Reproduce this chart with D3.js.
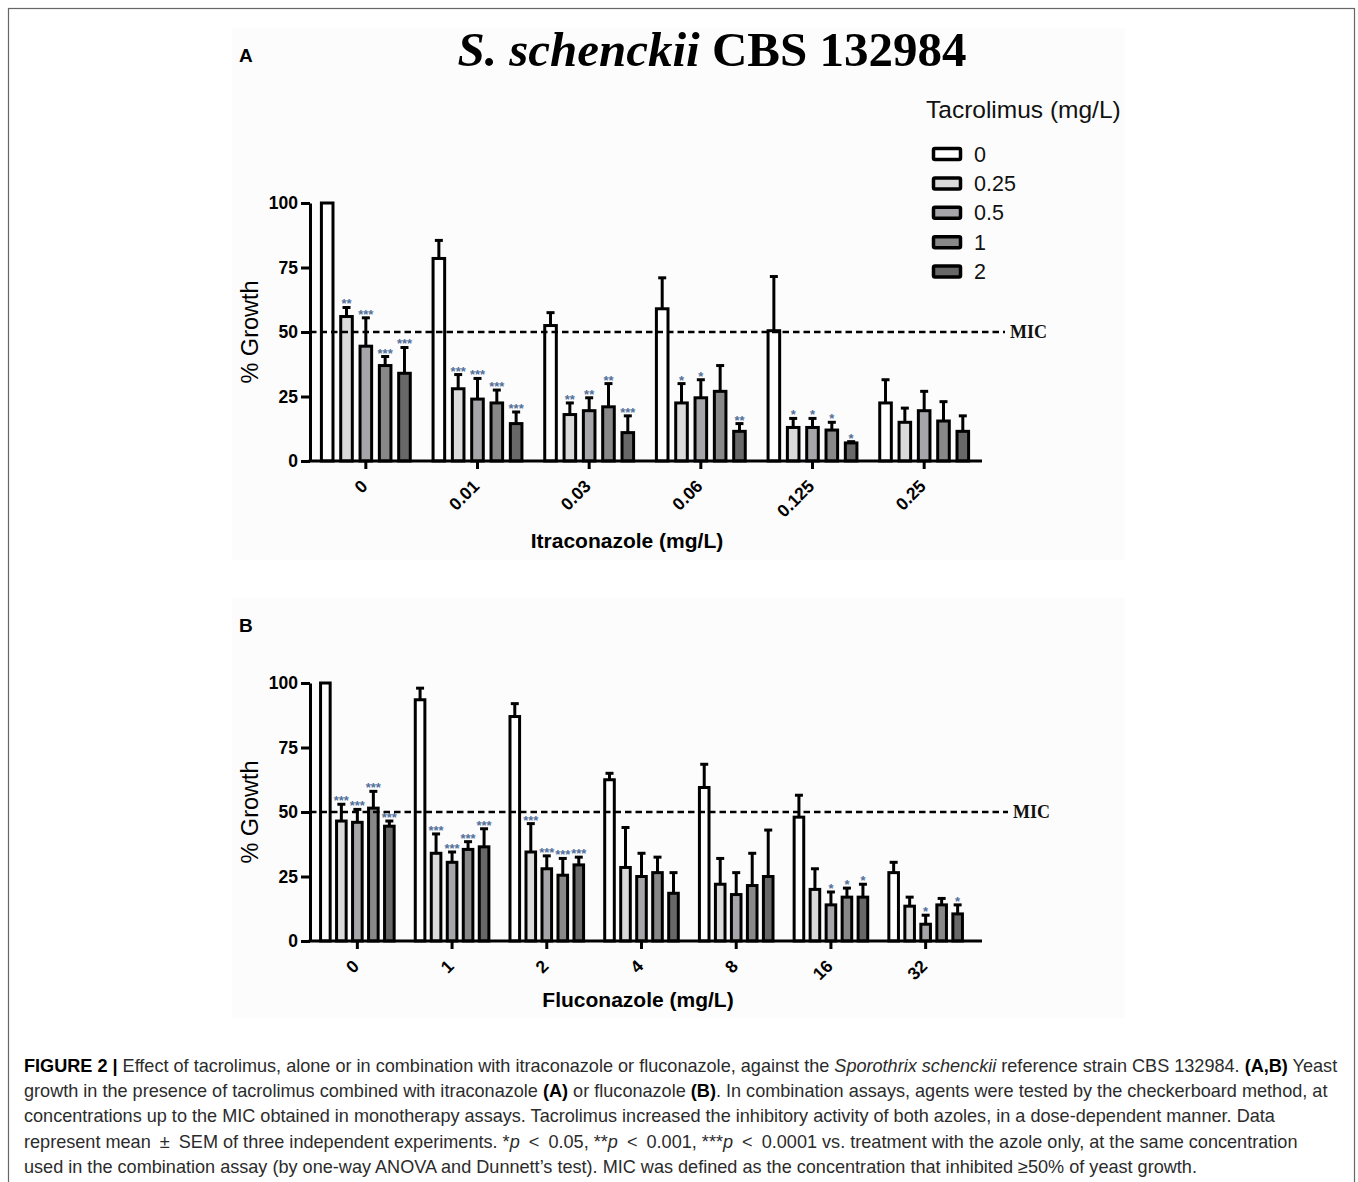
<!DOCTYPE html>
<html>
<head>
<meta charset="utf-8">
<script src="https://cdn.jsdelivr.net/npm/d3@7"></script>
<style>
body { margin: 0; background: #fff; }
svg text { font-family: "Liberation Sans", Arial, sans-serif; }
</style>
</head>
<body>
<svg id="fig" width="1358" height="1182"></svg>
<script>
/*global d3 */

// Tacrolimus levels (one bar per level inside every azole group)
var tacrolimus = ["0", "0.25", "0.5", "1", "2"];

// Panel A: itraconazole
var itraConc = ["0", "0.01", "0.03", "0.06", "0.125", "0.25"];
var itraMean = [
    [100, 56, 44.5, 37, 34],
    [78.5, 28, 24, 22.5, 14.5],
    [52.5, 18, 19.5, 21, 11],
    [59, 22.5, 24.5, 27, 11.5],
    [50.5, 13, 13, 12, 7],
    [22.5, 15, 19.5, 15.5, 11.5]];
var itraSem = [
    [0, 3.5, 11, 3.5, 10],
    [7, 5.5, 8, 5, 4.5],
    [5, 4.5, 5, 9, 6.5],
    [12, 7.5, 7, 10, 3],
    [21, 3.5, 3.5, 3, 0.5],
    [9, 5.5, 7.5, 7.5, 6]];
var itraSig = [
    ["", "**", "***", "***", "***"],
    ["", "***", "***", "***", "***"],
    ["", "**", "**", "**", "***"],
    ["", "*", "*", "", "**"],
    ["", "*", "*", "*", "*"],
    ["", "", "", "", ""]];

// Panel B: fluconazole
var flucoConc = ["0", "1", "2", "4", "8", "16", "32"];
var flucoMean = [
    [100, 46.5, 46, 51.5, 44.5],
    [93.5, 34, 30.5, 35.5, 36.5],
    [87, 34.5, 28, 25.5, 29.5],
    [62.5, 28.5, 25, 26.5, 18.5],
    [59.5, 22, 18, 21.5, 25],
    [48, 20, 14, 17, 17],
    [26.5, 13.5, 6.5, 14, 10.5]];
var flucoSem = [
    [0, 6.5, 5, 6.5, 2],
    [4.5, 7.5, 4, 3, 7],
    [5, 11, 5, 6.5, 3],
    [2.5, 15.5, 9, 6, 8],
    [9, 10, 8.5, 12.5, 18],
    [8.5, 8, 5, 3.5, 5],
    [4, 3.5, 3.5, 2.5, 3.5]];
var flucoSig = [
    ["", "***", "***", "***", "***"],
    ["", "***", "***", "***", "***"],
    ["", "***", "***", "***", "***"],
    ["", "", "", "", ""],
    ["", "", "", "", ""],
    ["", "", "*", "*", "*"],
    ["", "", "*", "", "*"]];

var yTicks = [0, 25, 50, 75, 100];
var micLevel = 50;

var barFills = ["#ffffff", "#dadada", "#a6a6aa", "#888888", "#686868"];
var starColor = "#52709b";
var svg = d3.select("#fig");


function drawFrame () {
    svg.append("rect")
        .attr("x", 8.5).attr("y", 8.5)
        .attr("width", 1346).attr("height", 1200)
        .attr("fill", "none")
        .attr("stroke", "#666")
        .attr("stroke-width", 1.2);
    //faint backdrop of the pasted chart images
    svg.append("rect").attr("x", 232).attr("y", 28)
        .attr("width", 893).attr("height", 532).attr("fill", "#fcfcfc");
    svg.append("rect").attr("x", 232).attr("y", 598)
        .attr("width", 893).attr("height", 420).attr("fill", "#fcfcfc");
}


function drawTitle () {
    var t = svg.append("text")
        .attr("x", 712)
        .attr("y", 66)
        .attr("text-anchor", "middle")
        .attr("font-size", 49)
        .attr("font-weight", "bold")
        .style("font-family", "'Liberation Serif', 'Times New Roman', serif");
    t.append("tspan").attr("font-style", "italic").text("S. schenckii");
    t.append("tspan").text(" CBS 132984");
    [["A", 62], ["B", 632]].forEach(function (lab) {
        svg.append("text")
            .attr("x", 239).attr("y", lab[1])
            .attr("font-size", 19).attr("font-weight", "bold")
            .text(lab[0]);
    });
}


function drawLegend () {
    var lg = svg.append("g");
    lg.append("text")
        .attr("x", 926).attr("y", 118)
        .attr("font-size", 24.5)
        .attr("fill", "#111")
        .text("Tacrolimus (mg/L)");
    tacrolimus.forEach(function (t, i) {
        var cy = 154 + i * 29.4;
        lg.append("rect")
            .attr("x", 933.5).attr("y", cy - 5.5)
            .attr("width", 27).attr("height", 11)
            .attr("rx", 1.5)
            .attr("fill", barFills[i])
            .attr("stroke", "#000")
            .attr("stroke-width", 3.5);
        lg.append("text")
            .attr("x", 974).attr("y", cy + 7.5)
            .attr("font-size", 21.5)
            .attr("fill", "#111")
            .text(t);
    });
}


function drawPanel (p) {
    var g = svg.append("g"),
        x0 = d3.scaleBand().domain(p.conc).range([p.left, p.right]),
        x1 = d3.scaleBand().domain(tacrolimus).range([0, x0.bandwidth()])
            .paddingInner(0.4).paddingOuter(p.po),
        y = d3.scaleLinear().domain([0, 100]).range([p.bottom, p.top]),
        rows = [], xa, ya;

    p.conc.forEach(function (c, i) {
        tacrolimus.forEach(function (t, j) {
            rows.push({c: c, t: t, j: j, v: p.mean[i][j],
                       e: p.sem[i][j], s: p.sig[i][j]});
        });
    });

    function cx (d) {
        return x0(d.c) + x1(d.t) + x1.bandwidth() / 2;
    }

    //error bars (upper half only, like Prism)
    var eb = g.append("g").attr("stroke", "#000").attr("stroke-width", 3);
    eb.selectAll("line.stem")
        .data(rows.filter(function (d) { return d.e > 0; }))
        .enter().append("line")
        .attr("class", "stem")
        .attr("x1", cx).attr("x2", cx)
        .attr("y1", function (d) { return y(d.v); })
        .attr("y2", function (d) { return y(d.v + d.e); });
    eb.selectAll("line.cap")
        .data(rows.filter(function (d) { return d.e > 0; }))
        .enter().append("line")
        .attr("class", "cap")
        .attr("x1", function (d) { return cx(d) - 4; })
        .attr("x2", function (d) { return cx(d) + 4; })
        .attr("y1", function (d) { return y(d.v + d.e); })
        .attr("y2", function (d) { return y(d.v + d.e); });

    g.append("g").selectAll("rect")
        .data(rows)
        .enter().append("rect")
        .attr("x", function (d) { return x0(d.c) + x1(d.t); })
        .attr("y", function (d) { return y(d.v); })
        .attr("width", x1.bandwidth())
        .attr("height", function (d) { return y(0) - y(d.v); })
        .attr("fill", function (d) { return barFills[d.j]; })
        .attr("stroke", "#000")
        .attr("stroke-width", 3);

    g.append("g").selectAll("text")
        .data(rows.filter(function (d) { return d.s; }))
        .enter().append("text")
        .attr("x", cx)
        .attr("y", function (d) { return y(d.v + d.e) + 1; })
        .attr("text-anchor", "middle")
        .attr("font-size", 13)
        .attr("font-weight", "bold")
        .attr("fill", starColor)
        .text(function (d) { return d.s; });

    //MIC threshold
    g.append("line")
        .attr("x1", p.left).attr("x2", p.micEnd)
        .attr("y1", y(micLevel)).attr("y2", y(micLevel))
        .attr("stroke", "#000")
        .attr("stroke-width", 2.5)
        .attr("stroke-dasharray", "6.5,4");
    g.append("text")
        .attr("x", p.micEnd + 5).attr("y", y(micLevel) + 6)
        .attr("font-size", 18)
        .attr("font-weight", "bold")
        .style("font-family", "'Liberation Serif', 'Times New Roman', serif")
        .attr("fill", "#111")
        .text("MIC");

    ya = g.append("g")
        .attr("transform", "translate(" + p.left + ",0)")
        .call(d3.axisLeft(y).tickValues(yTicks).tickSize(9)
              .tickSizeOuter(0).tickPadding(3));
    ya.selectAll(".domain, .tick line").attr("stroke-width", 3);
    ya.selectAll("text")
        .attr("font-size", 17.5).attr("font-weight", "bold")
        .attr("font-family", "'Liberation Sans', Arial, sans-serif");

    xa = g.append("g")
        .attr("transform", "translate(0," + p.bottom + ")")
        .call(d3.axisBottom(x0).tickSize(8).tickSizeOuter(0));
    xa.select(".domain").attr("stroke-width", 3)
        .attr("d", "M" + (p.left - 1.5) + ",0H" + p.axisEnd);
    xa.selectAll(".tick line").attr("stroke-width", 3);
    xa.selectAll("text")
        .attr("x", 0).attr("y", 0).attr("dy", "0.35em")
        .attr("text-anchor", "end")
        .attr("transform", "translate(-1.5,22) rotate(-45)")
        .attr("font-size", 17.5).attr("font-weight", "bold")
        .attr("font-family", "'Liberation Sans', Arial, sans-serif");

    g.append("text")
        .attr("transform", "translate(" + 258 + "," + y(50) + ") rotate(-90)")
        .attr("text-anchor", "middle")
        .attr("font-size", 23.5)
        .text("% Growth");
    g.append("text")
        .attr("x", p.titleX).attr("y", p.bottom + p.titleDy)
        .attr("text-anchor", "middle")
        .attr("font-size", 21).attr("font-weight", "bold")
        .text(p.title);
}


function drawCaption () {
    var lt = "\u2002<\u2002";
    var lines = [
        [["FIGURE 2 | ", "b"], ["Effect of tacrolimus, alone or in combination with itraconazole or fluconazole, against the "],
         ["Sporothrix schenckii", "i"], [" reference strain CBS 132984. "], ["(A,B)", "b"], [" Yeast"]],
        [["growth in the presence of tacrolimus combined with itraconazole "], ["(A)", "b"], [" or fluconazole "],
         ["(B)", "b"], [". In combination assays, agents were tested by the checkerboard method, at"]],
        [["concentrations up to the MIC obtained in monotherapy assays. Tacrolimus increased the inhibitory activity of both azoles, in a dose-dependent manner. Data"]],
        [["represent mean\u2002\u00b1\u2002SEM of three independent experiments. *"], ["p", "i"], [lt + "0.05, **"], ["p", "i"],
         [lt + "0.001, ***"], ["p", "i"], [lt + "0.0001 vs. treatment with the azole only, at the same concentration"]],
        [["used in the combination assay (by one-way ANOVA and Dunnett\u2019s test). MIC was defined as the concentration that inhibited \u226550% of yeast growth."]]];
    lines.forEach(function (segs, i) {
        var t = svg.append("text")
            .attr("x", 24).attr("y", 1072 + i * 25.2)
            .attr("font-size", 18.1)
            .attr("fill", "#2b2b2b")
            .style("font-family", "'Liberation Sans', Arial, sans-serif");
        segs.forEach(function (s) {
            var ts = t.append("tspan").text(s[0]);
            if(s[1] === "b") {
                ts.attr("font-weight", "bold").attr("fill", "#000"); }
            if(s[1] === "i") {
                ts.attr("font-style", "italic"); }
        });
    });
}


drawFrame();
drawTitle();
drawLegend();
drawPanel({conc: itraConc, mean: itraMean, sem: itraSem, sig: itraSig,
           left: 310, right: 980, top: 203, bottom: 461, po: 0.59,
           axisEnd: 982, micEnd: 1005, titleX: 627, titleDy: 87,
           title: "Itraconazole (mg/L)"});
drawPanel({conc: flucoConc, mean: flucoMean, sem: flucoSem, sig: flucoSig,
           left: 310, right: 973, top: 683, bottom: 941, po: 0.66,
           axisEnd: 982, micEnd: 1008, titleX: 638, titleDy: 66,
           title: "Fluconazole (mg/L)"});
drawCaption();
</script>
</body>
</html>
